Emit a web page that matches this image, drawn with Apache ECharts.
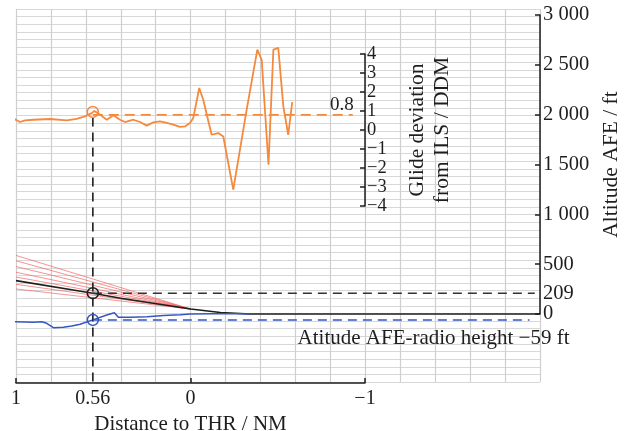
<!DOCTYPE html>
<html><head><meta charset="utf-8">
<script src="https://cdn.jsdelivr.net/npm/echarts@6/dist/echarts.min.js"></script>
<style>html,body{margin:0;padding:0;background:#fff}#c{width:626px;height:431px}</style>
</head><body><div id="c"></div>
<script>
const FONT = '"Liberation Serif", "DejaVu Serif", serif';
const TXT = '#1e1e1e';

// Glide deviation trace (distance to THR in NM, deviation in DDM)
const glideDist = [1.01,0.977,0.948,0.901,0.805,0.709,0.652,0.605,0.566,0.551,0.519,0.48,0.442,0.404,0.375,0.328,0.289,0.251,0.213,0.175,0.136,0.099,0.06,0.032,0.003,-0.016,-0.05,-0.073,-0.121,-0.159,-0.188,-0.245,-0.322,-0.383,-0.408,-0.447,-0.475,-0.503,-0.532,-0.56,-0.583];
const glideDev  = [0.58,0.42,0.51,0.54,0.58,0.51,0.59,0.72,0.89,1.0,0.81,0.54,0.77,0.54,0.42,0.54,0.42,0.23,0.40,0.45,0.37,0.28,0.16,0.19,0.37,0.63,2.21,1.59,-0.25,-0.16,-0.34,-3.14,1.07,4.23,3.69,-1.83,4.23,4.32,1.24,-0.25,1.47];

// Altitude AFE (black)
const altDist = [1.0, 0.56, 0.4, 0, -0.17, -0.34, -2.0];
const altAFE  = [335, 209, 158, 50, 15, 0, 0];

// Altitude AFE - radio height (blue)
const diffDist = [1.02,0.9,0.853,0.824,0.786,0.729,0.681,0.633,0.56,0.48,0.437,0.414,0.347,0.25,0.156,0.06,0,-0.13,-0.27,-0.34];
const diffAlt  = [-77,-83,-77,-93,-137,-133,-120,-103,-59,-10,13,-33,-33,-28,-15,-8,0,2,2,0];

// Red fan of reference paths: start altitude at 1 NM, converging point
const fanStartDist = 1.0;
const fanStartAlt = [588, 534, 476, 419, 371, 298, 251];
const fanEndDist = 0;
const fanEndAlt = 50;

// Marked reading
const markDist = 0.56;
const markDev = 0.8;
const markDevCircle = 0.95;
const markAlt = 209;
const markDiff = -59;
const markLineEnd = -1.97;
const devLineEnd = -0.93;

// Tick labels
const xTickLabels = [1, 0.56, 0, -1];
const xTicks = [1, 0, -1];
const altTickLabels = [0, 209, 500, 1000, 1500, 2000, 2500, 3000];
const altTicks = [0, 500, 1000, 1500, 2000, 2500, 3000];

const minus = v => String(v).replace('-', '\u2212');
const thousands = v => String(v).replace(/\B(?=(\d{3})+(?!\d))/g, ' ');
const zip = (a, b) => a.map((x, i) => [x, b[i]]);

const ORANGE = '#f5893c';
const BLUE = '#3557c0';
const BLACK = '#1e1e1e';
const RED = 'rgba(240,90,90,0.65)';

const chart = echarts.init(document.getElementById('c'), null, {renderer: 'canvas'});

const series = [];
fanStartAlt.forEach(a => series.push({
  type: 'line', xAxisIndex: 1, yAxisIndex: 1, clip: false, symbol: 'none', silent: true,
  lineStyle: {color: RED, width: 1}, data: [[fanStartDist, a], [fanEndDist, fanEndAlt]]
}));
const ring = (color, xi, yi, pt) => ({
  type: 'scatter', xAxisIndex: xi, yAxisIndex: yi, clip: false, symbol: 'circle', symbolSize: 11, z: 5,
  itemStyle: {color: 'rgba(255,255,255,0)', borderColor: color, borderWidth: 1.5, opacity: 1}, data: [pt]
});
const textPoint = (xi, yi, pt, text, pos, size) => ({
  type: 'scatter', xAxisIndex: xi, yAxisIndex: yi, clip: false, symbol: 'circle', symbolSize: 0, z: 6,
  itemStyle: {color: 'rgba(0,0,0,0)', opacity: 1},
  label: {show: true, formatter: text, position: pos, align: 'right', verticalAlign: 'middle',
          fontFamily: FONT, fontSize: size, color: TXT, opacity: 1},
  data: [pt]
});
series.push(
  {type: 'line', xAxisIndex: 1, yAxisIndex: 1, clip: false, symbol: 'none',
   lineStyle: {color: BLACK, width: 1.6}, data: zip(altDist, altAFE)},
  {type: 'line', xAxisIndex: 1, yAxisIndex: 1, clip: false, symbol: 'none',
   lineStyle: {color: BLUE, width: 1.5}, data: zip(diffDist, diffAlt)},
  {type: 'line', xAxisIndex: 2, yAxisIndex: 2, clip: false, symbol: 'none',
   lineStyle: {color: ORANGE, width: 1.8}, data: zip(glideDist, glideDev)},
  // vertical dashed marker
  {type: 'line', xAxisIndex: 0, yAxisIndex: 0, clip: false, symbol: 'none',
   lineStyle: {color: BLACK, width: 1.6, type: [9, 6]}, data: [[markDist, markDev - 0.1], [markDist, -13.4]]},
  // horizontal dashed markers
  {type: 'line', xAxisIndex: 1, yAxisIndex: 1, clip: false, symbol: 'none',
   lineStyle: {color: '#333', width: 1.5, type: [9, 6]}, data: [[markDist, markAlt], [markLineEnd, markAlt]]},
  {type: 'line', xAxisIndex: 1, yAxisIndex: 1, clip: false, symbol: 'none',
   lineStyle: {color: BLUE, width: 1.5, type: [9, 6]}, data: [[markDist, markDiff], [markLineEnd + 0.03, markDiff]]},
  textPoint(1, 1, [markLineEnd + 0.03, markDiff], 'Atitude AFE-radio height ' + minus(markDiff) + ' ft', [40, 19], 21),
  {type: 'line', xAxisIndex: 2, yAxisIndex: 2, clip: false, symbol: 'none',
   lineStyle: {color: ORANGE, width: 1.8, type: [10, 6]}, data: [[markDist, markDev], [devLineEnd, markDev]]},
  textPoint(2, 2, [devLineEnd, markDev], String(markDev), [1, -10], 19),
  ring(BLACK, 1, 1, [markDist, markAlt]),
  ring(BLUE, 1, 1, [markDist, markDiff]),
  ring(ORANGE, 2, 2, [markDist, markDevCircle])
);

const hidden = {axisLine: {show: false}, axisTick: {show: false}, axisLabel: {show: false}, splitLine: {show: false}};

chart.setOption({
  animation: false,
  backgroundColor: '#fff',
  grid: [
    {left: 16, right: 86, top: 9, bottom: 49, outerBoundsMode: 'none'},   // background grid
    {left: 16, right: 86, top: 15, bottom: 117, outerBoundsMode: 'none'}, // altitude
    {left: 16, right: 261, top: 54, bottom: 225, outerBoundsMode: 'none'},// glide deviation
    {left: 16, right: 261, top: 9, bottom: 48, outerBoundsMode: 'none'}   // distance axis
  ],
  xAxis: [
    {gridIndex: 0, type: 'value', min: -2, max: 1, interval: 0.2, inverse: true,
     axisLine: {show: false}, axisTick: {show: false}, axisLabel: {show: false},
     splitLine: {show: true, lineStyle: {color: '#cfcfcf', width: 1.2}}},
    Object.assign({gridIndex: 1, type: 'value', min: -2, max: 1, inverse: true}, hidden),
    Object.assign({gridIndex: 2, type: 'value', min: -1, max: 1, inverse: true}, hidden),
    {gridIndex: 3, type: 'value', min: -1, max: 1, inverse: true, position: 'bottom',
     axisLine: {show: true, onZero: false, lineStyle: {color: BLACK, width: 1.5}},
     axisTick: {show: true, inside: true, length: 5, customValues: xTicks, lineStyle: {color: BLACK, width: 1.5}},
     axisLabel: {customValues: xTickLabels, formatter: v => minus(v), fontFamily: FONT, fontSize: 20, color: TXT, margin: 6},
     splitLine: {show: false},
     name: 'Distance to THR / NM', nameLocation: 'middle', nameGap: 27,
     nameTextStyle: {fontFamily: FONT, fontSize: 21, color: TXT}}
  ],
  yAxis: [
    {gridIndex: 0, type: 'value', min: -13.2, max: 6.4, interval: 0.4,
     axisLine: {show: false}, axisTick: {show: false}, axisLabel: {show: false},
     splitLine: {show: true, lineStyle: {color: '#d8d8d8', width: 1.2}}},
    {gridIndex: 1, type: 'value', position: 'right', min: 0, max: 3000,
     axisLine: {show: true, onZero: false, lineStyle: {color: BLACK, width: 1.5}},
     axisTick: {show: true, inside: true, length: 5, customValues: altTicks, lineStyle: {color: BLACK, width: 1.5}},
     axisLabel: {customValues: altTickLabels, formatter: v => thousands(v), fontFamily: FONT, fontSize: 20.5, color: TXT, margin: 3},
     splitLine: {show: false},
     name: 'Altitude AFE / ft', nameLocation: 'middle', nameGap: 56,
     nameTextStyle: {fontFamily: FONT, fontSize: 21.5, color: TXT}},
    {gridIndex: 2, type: 'value', position: 'right', min: -4, max: 4, interval: 1,
     axisLine: {show: true, onZero: false, lineStyle: {color: BLACK, width: 1.5}},
     axisTick: {show: true, inside: true, length: 5, lineStyle: {color: BLACK, width: 1.5}},
     axisLabel: {formatter: v => minus(v), fontFamily: FONT, fontSize: 18.5, color: TXT, margin: 2},
     splitLine: {show: false},
     name: 'Glide deviation\nfrom ILS / DDM', nameLocation: 'middle', nameGap: 40,
     nameTextStyle: {fontFamily: FONT, fontSize: 21.5, color: TXT, lineHeight: 25}},
    Object.assign({gridIndex: 3, type: 'value', min: 0, max: 1}, hidden)
  ],
  series: series
});
</script></body></html>
